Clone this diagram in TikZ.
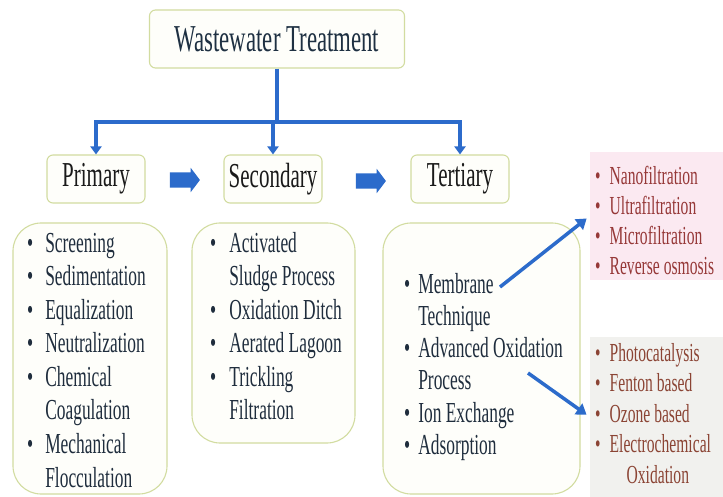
\documentclass[tikz,border=0pt]{standalone}
\usepackage{fontspec}
\setmainfont{Liberation Serif}[FakeStretch=0.6]
\usetikzlibrary{arrows.meta,shapes.arrows}

\definecolor{flowblue}{HTML}{2C6BCB}
\definecolor{boxedge}{HTML}{D2DCA0}
\definecolor{boxfill}{HTML}{FEFEFA}
\definecolor{titletext}{HTML}{1E3042}
\definecolor{headtext}{HTML}{1A1A1A}
\definecolor{listtext}{HTML}{1F2D3D}
\definecolor{membfill}{HTML}{FBE9F1}
\definecolor{aopfill}{HTML}{F1F1EE}
\definecolor{membtext}{HTML}{963838}
\definecolor{aoptext}{HTML}{8B4434}

\begin{document}
\begin{tikzpicture}
  [
    x = 1pt, y = -1pt,
    box/.style = {draw = boxedge, fill = boxfill, line width = 1.1pt,
        rounded corners = 6pt, inner sep = 0pt},
    head/.style = {box, minimum width = 98pt, minimum height = 48pt,
        font = \fontsize{35}{40}\selectfont, text = headtext},
    listbox/.style = {box, rounded corners = 28pt},
    items/.style = {anchor = base west, inner sep = 0pt,
        font = \fontsize{29}{33.6}\selectfont, text = listtext},
    subitems/.style = {items, font = \fontsize{26}{30}\selectfont},
    shade/.style = {inner sep = 0pt},
    tree/.style = {flowblue, line width = 4pt,
        -{Triangle[width = 11pt, length = 8pt]}},
    jump/.style = {flowblue, line width = 3.5pt,
        -{Triangle[width = 13pt, length = 10pt]}, shorten > = 4pt},
    nextarrow/.style = {single arrow, fill = flowblue, inner xsep = 0pt,
        inner ysep = 7.5pt, minimum height = 30pt,
        single arrow head extend = 4.5pt, single arrow tip angle = 106},
  ]

  \useasboundingbox (0,0) rectangle (723,497);
  \fill[white] (0,0) rectangle (723,497);

  % title and stages
  \node[box, minimum width = 255pt, minimum height = 58pt, text = titletext,
      font = \fontsize{38}{42}\selectfont] (title) at (277,39) {Wastewater Treatment};
  \node[head] (prim) at (96,179) {Primary};
  \node[head] (sec) at (273,179) {Secondary};
  \node[head] (tert) at (460,179) {Tertiary};

  \node[nextarrow] (p2s) at (182,180) {};
  \node[nextarrow] (s2t) at (368,181) {};

  \coordinate (hub) at (title.south |- 0,122);
  \draw[flowblue, line width = 4pt] (title.south) -- (hub);
  \foreach \stage in {prim,sec,tert}{
      \draw[tree] (hub) -| (\stage.north);
    }

  % list boxes
  \node[listbox, minimum width = 154pt, minimum height = 271pt] (primbox) at (90,358.5) {};
  \node[listbox, minimum width = 163pt, minimum height = 220pt] (secbox) at (273.5,333) {};
  \node[listbox, minimum width = 197pt, minimum height = 271pt] (tertbox) at (481.5,358.5) {};
  \node[shade, fill = membfill, minimum width = 133pt, minimum height = 128pt] (membbox) at (656.5,216) {};
  \node[shade, fill = aopfill, minimum width = 133pt, minimum height = 160pt] (aopbox) at (656.5,417) {};

  \node[items] (primlist) at (27,252) {%
    \begin{tabular}[t]{@{}l@{\hspace{12pt}}l@{}}
      \textbullet & Screening\\
      \textbullet & Sedimentation\\
      \textbullet & Equalization\\
      \textbullet & Neutralization\\
      \textbullet & Chemical\\
                  & Coagulation\\
      \textbullet & Mechanical\\
                  & Flocculation
    \end{tabular}};

  \node[items] (seclist) at (210,252) {%
    \begin{tabular}[t]{@{}l@{\hspace{13pt}}l@{}}
      \textbullet & Activated\\
                  & Sludge Process\\
      \textbullet & Oxidation Ditch\\
      \textbullet & Aerated Lagoon\\
      \textbullet & Trickling\\
                  & Filtration
    \end{tabular}};

  \node[items, font = \fontsize{29}{32.3}\selectfont] (tertlist) at (404,293) {%
    \begin{tabular}[t]{@{}l@{\hspace{8pt}}l@{}}
      \textbullet & Membrane\\
                  & Technique\\
      \textbullet & Advanced Oxidation\\
                  & Process\\
      \textbullet & Ion Exchange\\
      \textbullet & Adsorption
    \end{tabular}};

  \node[subitems, text = membtext] (memblist) at (595,185) {%
    \begin{tabular}[t]{@{}l@{\hspace{9pt}}l@{}}
      \textbullet & Nanofiltration\\
      \textbullet & Ultrafiltration\\
      \textbullet & Microfiltration\\
      \textbullet & Reverse osmosis
    \end{tabular}};

  \node[subitems, text = aoptext, font = \fontsize{26}{30.5}\selectfont] (aoplist) at (595,361) {%
    \begin{tabular}[t]{@{}l@{\hspace{9pt}}l@{}}
      \textbullet & Photocatalysis\\
      \textbullet & Fenton based\\
      \textbullet & Ozone based\\
      \textbullet & Electrochemical\\
                  & \hspace{17pt}Oxidation
    \end{tabular}};

  % membrane and AOP branches
  \coordinate (membtip) at (500,287);
  \coordinate (aoptip) at (528,373);
  \draw[jump] (membtip) -- (membbox.west);
  \draw[jump] (aoptip) -- (aopbox.west);

\end{tikzpicture}
\end{document}
